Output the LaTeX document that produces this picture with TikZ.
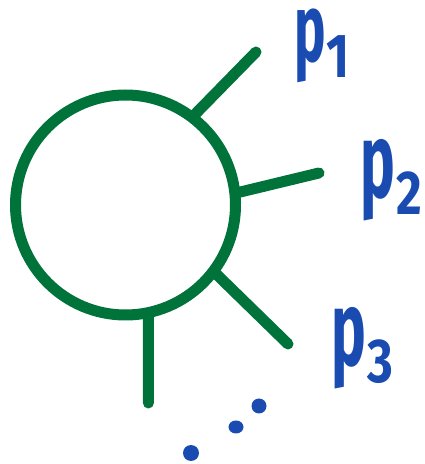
\documentclass[tikz,border=0pt]{standalone}
\usepackage{fontspec}
\setmainfont{Fira Sans}
\usepackage{graphicx}
\usetikzlibrary{calc}
\definecolor{inkgreen}{HTML}{00733A}
\definecolor{inkblue}{HTML}{1A4BB0}
\newcommand{\plab}[1]{\scalebox{0.55}[1]{p}\hspace{1pt}\raisebox{-0.16em}{\fontsize{62}{62}\selectfont\scalebox{0.8}[1]{#1}}}
\tikzset{
  leg/.style={draw=inkgreen, line width=11pt, line cap=round},
  ring/.style={circle, draw=inkgreen, line width=11pt, minimum size=220pt, inner sep=0pt, fill=white},
  plabel/.style={text=inkblue, font=\fontsize{106}{106}\selectfont\bfseries, inner sep=0pt, anchor=base west},
  inkdot/.style={fill=inkblue}
}
\begin{document}
\begin{tikzpicture}[x=1pt,y=1pt]
\useasboundingbox (0,0) rectangle (425,464);
\coordinate (c) at (125.5,259);
\coordinate (s1) at ($(c)+(52.8:110)$);
\coordinate (s2) at ($(c)+(6.1:110)$);
\coordinate (s3) at ($(c)+(-37:110)$);
\coordinate (s4) at ($(c)+(-78:110)$);
\coordinate (e1) at (256,412);
\coordinate (e2) at (319,291);
\coordinate (e3) at (288,120);
\coordinate (e4) at (148.4,61);
\draw[leg] (s1) -- (e1);
\draw[leg] (s2) -- (e2);
\draw[leg] (s3) -- (e3);
\draw[leg] (s4) -- (e4);
\node[ring] (blob) at (c) {};
\node[plabel, font=\fontsize{96}{96}\selectfont\bfseries] (p1) at (294,402) {\plab{1}};
\node[plabel] (p2) at (360,266.5) {\plab{2}};
\node[plabel] (p3) at (331,98.5) {\plab{3}};
\fill[inkdot] (259,58) circle[radius=7.5];
\fill[inkdot] (236,37) ellipse[x radius=7.5, y radius=6.5];
\fill[inkdot] (191,11) circle[radius=8];
\end{tikzpicture}
\end{document}
